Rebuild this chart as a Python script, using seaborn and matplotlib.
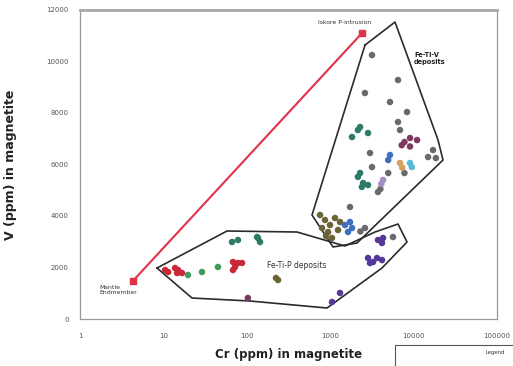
import numpy as np
import pandas as pd
import matplotlib
matplotlib.use("Agg")
import matplotlib.pyplot as plt
import seaborn as sns

# Cr (ppm) and V (ppm) in magnetite per group
red_cr = [10.5, 11.4, 13.8, 15.0, 16.7, 14.6, 68.3, 72.2, 78.4, 68.3, 87.6]
red_v = [1903, 1825, 1980, 1903, 1786, 1786, 2213, 2019, 2175, 1903, 2175]
green_cr = [19.7, 29.0, 45.1]
green_v = [1709, 1825, 2019]
teal_cr = [66.5, 78.4, 136, 144, 133, 2280, 1826, 2840, 2150, 2280, 2150, 2480, 2840, 2400]
teal_v = [2990, 3068, 3145, 2990, 3184, 7455, 7067, 7222, 7339, 5669, 5520, 5281, 5203, 5130]
olive_cr = [237, 224, 755, 866, 995, 942, 1142, 797, 1051, 1241, 1312, 891]
olive_v = [1514, 1592, 4038, 3844, 3650, 3378, 3922, 3534, 3145, 3456, 3766, 3223]
plum_cr = [103, 9060, 7770, 11000, 9060, 7200]
plum_v = [815, 7028, 6873, 6950, 6700, 6750]
purple_cr = [1051, 1312, 3260, 3640, 4180, 3000, 2840, 3740, 4300, 4180]
purple_v = [660, 1010, 2213, 2369, 2291, 2175, 2369, 3068, 3145, 2951]
gray_cr = [5660, 2610, 2300, 3170, 6500, 2610, 5210, 8340, 6500, 6870, 3000,
           17100, 14900, 18500, 3170, 4960, 7770, 1727, 3740, 4000]
gray_v = [3184, 3534, 3400, 10251, 9280, 8776, 8426, 8038, 7650, 7339, 6446,
          6562, 6291, 6250, 5902, 5669, 5669, 4349, 4931, 5050]
blue_cr = [1504, 1727, 1633, 1826, 5210, 4960]
blue_v = [3650, 3766, 3378, 3534, 6368, 6174]
cyan_cr = [9060, 9500]
cyan_v = [6058, 5900]
tan_cr = [6870, 7300]
tan_v = [6058, 5880]
lav_cr = [4300, 4100]
lav_v = [5397, 5250]

# field boundaries
fetiv_cr = [2615, 5985, 19630, 22520, 2096, 1081, 605, 2615]
fetiv_v = [10640, 11532, 6951, 6174, 2951, 2796, 4038, 10640]
fetip_cr = [8.38, 57.9, 400, 1504, 3445, 6500, 8340, 4180, 916, 109, 22.0, 8.38]
fetip_v = [1980, 3417, 3378, 2835, 3378, 3689, 2990, 1980, 427, 699, 815, 1980]

# mantle -> crustal endmember trend
trend_cr = [4.3, 2400]
trend_v = [1475, 11100]

xticks = [1, 10, 100, 1000, 10000, 100000]
yticks = [0, 2000, 4000, 6000, 8000, 10000, 12000]

groups = {
    "red": (red_cr, red_v, "#c8283a"),
    "green": (green_cr, green_v, "#3f9a5c"),
    "teal": (teal_cr, teal_v, "#2c7b68"),
    "olive": (olive_cr, olive_v, "#6b6436"),
    "plum": (plum_cr, plum_v, "#7d3a5e"),
    "purple": (purple_cr, purple_v, "#56389a"),
    "gray": (gray_cr, gray_v, "#6a6a6a"),
    "blue": (blue_cr, blue_v, "#3f70c0"),
    "cyan": (cyan_cr, cyan_v, "#58b8d8"),
    "tan": (tan_cr, tan_v, "#d4a25e"),
    "lavender": (lav_cr, lav_v, "#a48cc4"),
}

rows = []
for name, (cr, v, _) in groups.items():
    for a, b in zip(cr, v):
        rows.append({"Cr": a, "V": b, "group": name})
df = pd.DataFrame(rows)
palette = {k: c for k, (_, _, c) in groups.items()}

sns.set_style("white")
plt.rcParams["font.family"] = ["DejaVu Sans"]

fig = plt.figure(figsize=(5.13, 3.66), dpi=100)
ax = fig.add_axes([80 / 513, 47 / 366, 417 / 513, 309 / 366])

ax.plot(fetiv_cr, fetiv_v, color="#2b2b2b", lw=1.2)
ax.plot(fetip_cr, fetip_v, color="#2b2b2b", lw=1.2)
ax.plot(trend_cr, trend_v, color="#e2324a", lw=1.5, marker="s", markersize=4)

sns.scatterplot(data=df, x="Cr", y="V", hue="group", palette=palette,
                s=22, edgecolor="none", legend=False, ax=ax, zorder=3)

ax.set_xscale("log")
ax.set_xlim(1, 100000)
ax.set_ylim(0, 12000)
ax.set_xticks(xticks)
ax.set_xticklabels([str(t) for t in xticks])
ax.set_yticks(yticks)
ax.set_yticklabels([str(t) for t in yticks])
ax.minorticks_off()
ax.tick_params(axis="both", labelsize=5, colors="#555555", direction="inout", length=4, width=0.6)
ax.tick_params(axis="x", pad=8)
ax.tick_params(axis="y", pad=6)
for side in ("left", "bottom", "right"):
    ax.spines[side].set_color("#9a9a9a")
    ax.spines[side].set_linewidth(0.9)
ax.spines["top"].set_color("#a8a8a8")
ax.spines["top"].set_linewidth(2)

ax.set_xlabel("Cr (ppm) in magnetite", fontsize=8.5, fontweight="bold", color="#222222")
ax.set_ylabel("V (ppm) in magnetite", fontsize=9, fontweight="bold", color="#222222")
ax.xaxis.set_label_coords(0.5, -0.095)
ax.yaxis.set_label_coords(-0.15, 0.5)

ax.text(10100, 10100, "Fe-Ti-V\ndeposits", fontsize=4.8, fontweight="bold", va="center", ha="left", color="#222222")
ax.text(400, 2097, "Fe-Ti-P deposits", fontsize=5.5, va="center", ha="center", color="#333333")
ax.text(1.7, 1126, "Mantle\nEndmember", fontsize=4.4, va="center", ha="left", color="#333333")
ax.text(1504, 11530, "Iskore P-intrusion", fontsize=4.4, va="center", ha="center", color="#333333")

# cut-off legend box at the bottom right
fig.patches.append(plt.Rectangle((395 / 513, -0.02), 0.3, 0.077, transform=fig.transFigure,
                                 fill=False, edgecolor="#555555", lw=0.8))
fig.text(0.985, 0.038, "Legend", fontsize=3.8, ha="right", va="center", color="#333333")

fig.savefig("out.png", dpi=100, facecolor="white")
